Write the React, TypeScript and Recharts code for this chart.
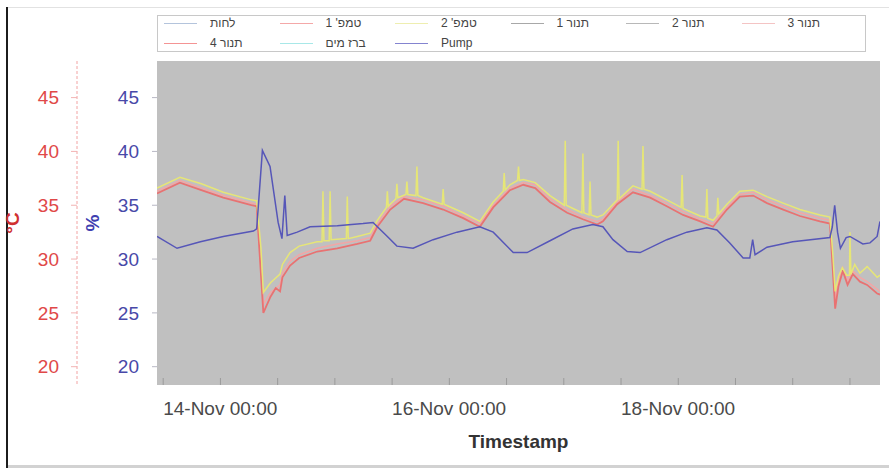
import React from "react";
import { LineChart, Line, XAxis, YAxis, CartesianGrid, Legend } from "recharts";

type Pt = [number, number];

// hours since 14-Nov 00:00, value
const tanur4: Pt[] = [
  [-1.3, 36.1], [3.5, 37.1], [8, 36.4], [12.6, 35.7], [18.5, 35.0], [19.6, 34.9], [21.0, 25.0],
  [22.5, 26.5], [23.6, 27.3], [24.5, 27.0], [25.0, 28.3], [26.6, 29.4], [28.5, 30.1], [32.3, 30.7],
  [36.5, 31.0], [40.7, 31.4], [43.4, 31.7], [44.9, 33.0], [47.6, 34.6], [50.5, 35.6], [54.5, 35.2],
  [58.7, 34.6], [62.9, 33.8], [66.4, 33.0], [69.2, 34.8], [72.7, 36.4], [75.5, 36.9], [78, 36.6],
  [81.1, 35.3], [84.7, 34.3], [88.0, 33.7], [91.0, 33.2], [92.2, 33.5], [95.2, 35.1], [98.5, 36.2],
  [102.1, 35.7], [105.6, 34.9], [109.0, 34.1], [112.6, 33.5], [115.3, 33.0], [118.2, 34.6],
  [120.9, 35.8], [123.7, 35.9], [126.6, 35.2], [130.0, 34.6], [133.5, 34.0], [137.7, 33.5],
  [139.8, 33.3], [140.9, 25.4], [141.6, 27.5], [142.5, 28.9], [143.5, 27.6], [144.6, 28.6],
  [146.1, 27.9], [147.6, 27.6], [149.7, 26.8], [150.3, 26.7],
];

const temp1: Pt[] = [
  [-1.3, 36.3], [3.5, 37.3], [8, 36.6], [12.6, 35.9], [18.5, 35.2], [19.6, 35.1], [21.0, 25.8],
  [22.5, 26.9], [24.5, 27.6], [25.0, 28.7], [26.6, 29.8], [28.5, 30.4], [32.3, 31.0], [36.5, 31.4],
  [40.7, 31.7], [43.4, 32.0], [44.9, 33.3], [47.6, 34.9], [50.5, 35.8], [54.5, 35.5], [58.7, 34.9],
  [62.9, 34.0], [66.4, 33.3], [69.2, 35.0], [72.7, 36.6], [75.5, 37.1], [78, 36.9], [81.1, 35.6],
  [84.7, 34.6], [88.0, 33.9], [91.0, 33.5], [92.2, 33.7], [95.2, 35.3], [98.5, 36.5], [102.1, 35.9],
  [105.6, 35.2], [109.0, 34.4], [112.6, 33.7], [115.3, 33.3], [118.2, 34.8], [120.9, 36.0],
  [123.7, 36.2], [126.6, 35.5], [130.0, 34.9], [133.5, 34.3], [137.7, 33.8], [139.8, 33.6],
  [140.9, 26.2], [141.6, 28.0], [142.5, 29.2], [143.5, 28.0], [144.6, 28.9], [146.1, 28.3],
  [147.6, 27.9], [149.7, 27.2], [150.3, 27.0],
];

const temp2: Pt[] = [
  [-1.3, 36.6], [3.5, 37.6], [8, 37.0], [12.6, 36.2], [18.5, 35.5], [19.6, 35.4], [20.5, 31.0],
  [21.0, 26.9], [22.5, 27.8], [24.5, 28.6], [25.0, 29.5], [26.6, 30.6], [28.5, 31.2], [32.3, 31.6],
  [33.3, 31.6], [33.5, 36.3], [33.7, 31.7], [34.8, 31.7], [35.0, 36.3], [35.2, 31.8], [38.4, 31.9],
  [38.6, 35.8], [38.8, 31.9], [40.7, 32.1], [43.4, 32.4], [44.9, 33.6], [46.8, 34.8], [47.0, 36.3],
  [47.2, 34.9], [47.6, 35.1], [48.8, 35.6], [49.0, 37.0], [49.2, 35.7], [50.9, 36.0], [51.1, 37.2],
  [51.3, 36.0], [53.0, 35.9], [53.2, 38.6], [53.4, 35.9], [54.5, 35.7], [58.5, 35.1], [58.7, 36.5],
  [58.9, 35.1], [62.9, 34.3], [66.4, 33.5], [69.2, 35.3], [71.3, 36.3], [71.5, 38.0], [71.7, 36.4],
  [72.7, 36.9], [74.3, 37.3], [74.5, 38.6], [74.7, 37.3], [75.5, 37.4], [78, 37.1], [81.1, 35.9],
  [84.1, 35.0], [84.3, 41.0], [84.5, 35.0], [87.8, 34.3], [88.0, 39.8], [88.2, 34.3], [89.3, 34.1],
  [89.5, 37.2], [89.7, 34.1], [91.0, 33.9], [92.2, 34.1], [95.2, 35.5], [95.4, 41.0], [95.6, 35.6],
  [98.5, 36.8], [100.4, 36.5], [100.6, 40.5], [100.8, 36.5], [102.1, 36.3], [105.6, 35.5],
  [108.6, 34.8], [108.8, 37.8], [109.0, 34.7], [112.6, 34.0], [113.8, 33.9], [114.0, 36.5],
  [114.2, 33.8], [115.3, 33.6], [116.1, 34.0], [116.3, 35.7], [116.5, 34.2], [118.2, 35.1],
  [120.9, 36.3], [123.7, 36.4], [126.6, 35.8], [130.0, 35.2], [133.5, 34.6], [137.7, 34.1],
  [139.8, 33.9], [140.4, 30.5], [140.9, 27.0], [141.6, 28.4], [142.4, 29.2], [143.3, 28.5],
  [143.9, 28.5], [144.0, 32.5], [144.2, 28.6], [145.0, 29.5], [146.1, 28.7], [147.6, 29.3],
  [149.7, 28.3], [150.3, 28.5],
];

const pump: Pt[] = [
  [-1.3, 32.1], [2.9, 31.0], [7.8, 31.6], [12.6, 32.1], [18.9, 32.6], [19.6, 32.8], [20.8, 40.1],
  [22.4, 38.6], [24.1, 33.4], [24.9, 31.9], [25.5, 35.9], [26.0, 32.2], [28.1, 32.5], [30.8, 33.0],
  [36.5, 33.1], [41.9, 33.3], [44.0, 33.4], [47.0, 32.1], [49.0, 31.2], [52.4, 31.0], [56.6, 31.8],
  [61.6, 32.5], [66.4, 33.0], [69.2, 32.5], [73.4, 30.6], [76.3, 30.6], [81.1, 31.7], [85.9, 32.8],
  [90.1, 33.2], [92.2, 33.0], [94.3, 31.8], [97.3, 30.7], [100.0, 30.6], [105.6, 31.8],
  [109.8, 32.5], [114.0, 32.9], [116.1, 32.7], [118.8, 31.5], [121.6, 30.1], [123.0, 30.1],
  [123.6, 31.8], [124.1, 30.4], [126.6, 31.1], [132.0, 31.6], [139.8, 32.0], [140.3, 33.0],
  [140.8, 35.0], [141.4, 32.5], [142.0, 31.0], [143.2, 32.0], [144.0, 32.1], [146.7, 31.4],
  [148.2, 31.5], [149.7, 32.1], [150.3, 33.5],
];

const timeTicks = [0, 12, 24, 36, 48, 60, 72, 84, 96, 108, 120, 132, 144];
const labelledTicks = [0, 48, 96];
const valueTicks = [20, 25, 30, 35, 40, 45];

const legendNames = ["לחות", "טמפ' 1", "טמפ' 2", "תנור 1", "תנור 2", "תנור 3", "תנור 4", "ברז מים", "Pump"];
const legendColors = ["#b4c4dc", "#f4a8a8", "#eeeeb0", "#a8a8a8", "#b8b8b8", "#f4c4c4", "#f49494", "#a8e8e8", "#8484d0"];

const FONT = '"Liberation Sans", Arial, sans-serif';

const rows = (pts: Pt[]) => pts.map(([t, v]) => ({ t, v }));

const TimeTick = (p: any) => {
  const t = p.payload.value;
  if (!labelledTicks.includes(t)) return <g />;
  return (
    <text x={p.x} y={p.y} dy={37} textAnchor="start" fill="#4a4a4a" fontSize={19} fontFamily={FONT}>
      {`${14 + t / 24}-Nov 00:00`}
    </text>
  );
};

const renderLegend = () => (
  <div
    style={{
      position: "relative",
      width: 709,
      height: 37,
      border: "1px solid #c8c8c8",
      boxSizing: "border-box",
      background: "#fff",
      fontFamily: FONT,
      fontSize: 12,
      color: "#444",
    }}
  >
    {legendNames.map((name, i) => {
      const col = i % 6;
      const row = Math.floor(i / 6);
      return (
        <div
          key={name}
          style={{
            position: "absolute",
            left: 6 + col * 115.5,
            top: 1 + row * 20,
            height: 12,
            display: "flex",
            alignItems: "center",
            whiteSpace: "nowrap",
          }}
        >
          <span style={{ display: "inline-block", width: 33, borderTop: `1px solid ${legendColors[i]}` }} />
          <span style={{ marginLeft: 13 }}>{name}</span>
        </div>
      );
    })}
  </div>
);

export default function App() {
  return (
    <div style={{ position: "absolute", left: 0, top: 0, width: 889, height: 468, background: "#fff", fontFamily: FONT }}>
      <div style={{ position: "absolute", left: 8, top: 7, width: 881, height: 1, background: "#e2e2e2" }} />
      <div style={{ position: "absolute", left: 6, top: 7, width: 2, height: 461, background: "#1c1c1c" }} />
      <div style={{ position: "absolute", left: 8, top: 465, width: 881, height: 3, background: "#d2d2d2" }} />
      <LineChart width={889} height={468} margin={{ top: 61, right: 9, bottom: 13, left: 0 }}>
        <CartesianGrid yAxisId="pct" horizontal={false} vertical={false} fill="#c0c0c0" />
        <XAxis
          dataKey="t"
          type="number"
          domain={[-1.3, 150.3]}
          allowDataOverflow
          ticks={timeTicks}
          height={70}
          axisLine={false}
          tickLine={{ stroke: "#9a9a9a" }}
          tickSize={-7}
          tickMargin={0}
          tick={TimeTick}
          label={{ value: "Timestamp", position: "insideBottom", offset: 7, fill: "#333", fontSize: 19, fontWeight: "bold" }}
        />
        <YAxis
          yAxisId="pct"
          orientation="left"
          width={80}
          type="number"
          domain={[18.3, 48.4]}
          allowDataOverflow
          ticks={valueTicks}
          axisLine={false}
          tickLine={{ stroke: "#b8b8c4" }}
          tickSize={5}
          tickMargin={13}
          tick={{ fill: "#4848a8", fontSize: 19 }}
          label={{ value: "%", angle: -90, position: "center", dx: -25, fill: "#4040b0", fontSize: 19, fontWeight: "bold" }}
        />
        <YAxis
          yAxisId="temp"
          orientation="left"
          width={77}
          type="number"
          domain={[18.3, 48.4]}
          allowDataOverflow
          ticks={valueTicks}
          axisLine={{ stroke: "#f2a4a4", strokeDasharray: "3 2" }}
          tickLine={{ stroke: "#f2b4b4" }}
          tickSize={6}
          tickMargin={12}
          tick={{ fill: "#e04848", fontSize: 19 }}
          label={{ value: "°C", angle: -90, position: "center", dx: -26, fill: "#d03030", fontSize: 19, fontWeight: "bold" }}
        />
        <Legend layout="vertical" align="center" verticalAlign="middle" wrapperStyle={{ top: 15, left: 157, width: 709, height: 37 }} content={renderLegend} />
        <Line yAxisId="temp" data={rows(temp1)} dataKey="v" name="טמפ' 1" stroke="#f2a6a6" strokeWidth={1.5} dot={false} isAnimationActive={false} />
        <Line yAxisId="temp" data={rows(tanur4)} dataKey="v" name="תנור 4" stroke="#e87272" strokeWidth={1.8} dot={false} isAnimationActive={false} />
        <Line yAxisId="temp" data={rows(temp2)} dataKey="v" name="טמפ' 2" stroke="#e6e676" strokeWidth={1.5} dot={false} isAnimationActive={false} />
        <Line yAxisId="pct" data={rows(pump)} dataKey="v" name="Pump" stroke="#5656b8" strokeWidth={1.5} dot={false} isAnimationActive={false} />
      </LineChart>
    </div>
  );
}
